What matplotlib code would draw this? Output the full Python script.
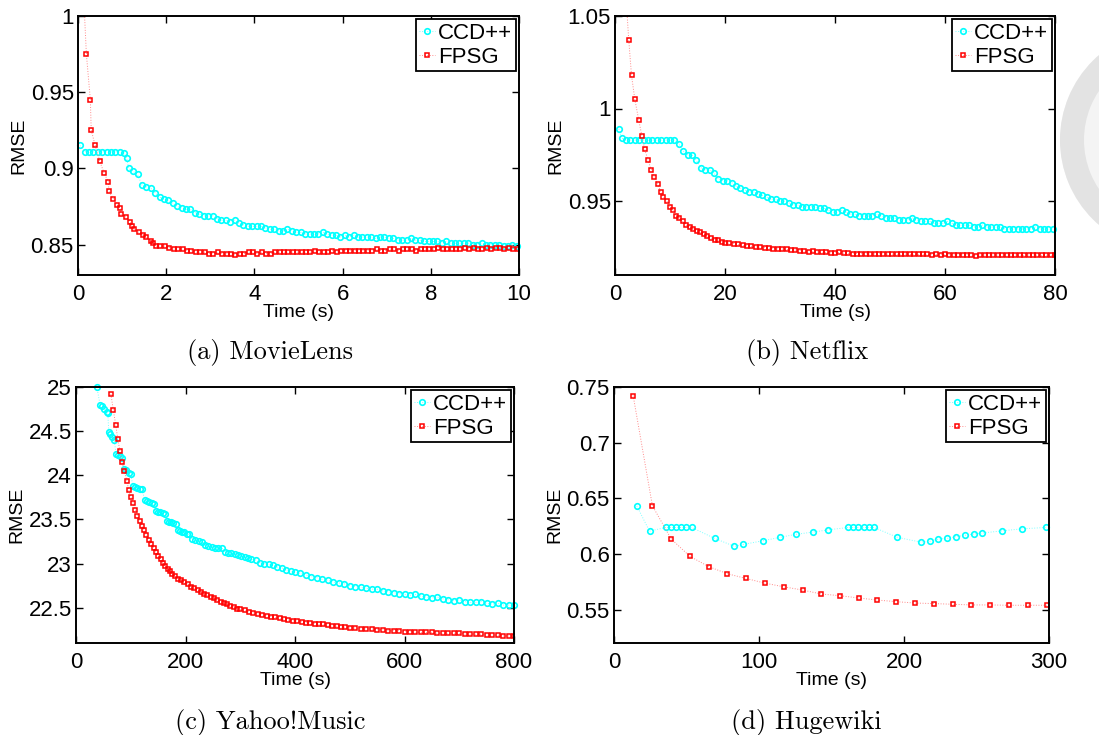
import matplotlib
matplotlib.use('Agg')
import matplotlib.pyplot as plt
from matplotlib.patches import Circle, Annulus

plt.rcParams['font.family'] = ['Liberation Sans', 'DejaVu Sans']

# ---------------- (a) MovieLens ----------------
ml_ccd_t = [0.05, 0.15, 0.25, 0.35, 0.45, 0.55, 0.65, 0.75, 0.85, 0.95, 1.05, 1.10,
            1.15, 1.25, 1.35, 1.45, 1.55, 1.65, 1.75, 1.85, 1.95,
            2.05, 2.15, 2.25, 2.35, 2.45, 2.55, 2.65, 2.75, 2.85, 2.95,
            3.05, 3.15, 3.25, 3.35, 3.45, 3.55, 3.65, 3.75, 3.85, 3.95,
            4.05, 4.15, 4.25, 4.35, 4.45, 4.55, 4.65, 4.75, 4.85, 4.95,
            5.05, 5.15, 5.25, 5.35, 5.45, 5.55, 5.65, 5.75, 5.85, 5.95,
            6.05, 6.15, 6.25, 6.35, 6.45, 6.55, 6.65, 6.75, 6.85, 6.95,
            7.05, 7.15, 7.25, 7.35, 7.45, 7.55, 7.65, 7.75, 7.85, 7.95,
            8.05, 8.15, 8.25, 8.35, 8.45, 8.55, 8.65, 8.75, 8.85, 8.95,
            9.05, 9.15, 9.25, 9.35, 9.45, 9.55, 9.65, 9.75, 9.85, 9.95]
ml_ccd_rmse = [0.915, 0.911, 0.911, 0.911, 0.911, 0.911, 0.911, 0.911, 0.911, 0.911, 0.910, 0.907,
               0.900, 0.898, 0.896, 0.889, 0.888, 0.887, 0.884, 0.881, 0.880,
               0.879, 0.877, 0.875, 0.874, 0.873, 0.873, 0.871, 0.870, 0.869, 0.869,
               0.869, 0.867, 0.866, 0.866, 0.865, 0.866, 0.864, 0.863, 0.862, 0.862,
               0.862, 0.862, 0.861, 0.860, 0.860, 0.859, 0.859, 0.860, 0.859, 0.858,
               0.858, 0.857, 0.857, 0.857, 0.857, 0.858, 0.857, 0.856, 0.856, 0.855,
               0.856, 0.855, 0.856, 0.855, 0.855, 0.855, 0.855, 0.854, 0.855, 0.855,
               0.854, 0.854, 0.853, 0.853, 0.853, 0.854, 0.853, 0.853, 0.852, 0.852,
               0.852, 0.852, 0.851, 0.852, 0.851, 0.851, 0.851, 0.851, 0.851, 0.850,
               0.850, 0.851, 0.850, 0.850, 0.850, 0.850, 0.849, 0.849, 0.850, 0.849]
ml_fpsg_t = [0.10, 0.19, 0.28, 0.30, 0.39, 0.49, 0.59, 0.69, 0.70, 0.80,
             0.89, 0.95, 0.97, 1.09, 1.19, 1.22, 1.27, 1.38, 1.48, 1.55,
             1.66, 1.70, 1.77, 1.87, 1.97,
             2.07, 2.17, 2.27, 2.37, 2.47, 2.57, 2.67, 2.77, 2.87, 2.97,
             3.07, 3.17, 3.27, 3.37, 3.47, 3.57, 3.67, 3.77, 3.87, 3.97,
             4.07, 4.17, 4.27, 4.37, 4.47, 4.57, 4.67, 4.77, 4.87, 4.97,
             5.07, 5.17, 5.27, 5.37, 5.47, 5.57, 5.67, 5.77, 5.87, 5.97,
             6.07, 6.17, 6.27, 6.37, 6.47, 6.57, 6.67, 6.77, 6.87, 6.97,
             7.07, 7.17, 7.27, 7.37, 7.47, 7.57, 7.67, 7.77, 7.87, 7.97,
             8.07, 8.17, 8.27, 8.37, 8.47, 8.57, 8.67, 8.77, 8.87, 8.97,
             9.07, 9.17, 9.27, 9.37, 9.47, 9.57, 9.67, 9.77, 9.87, 9.97]
ml_fpsg_rmse = [1.030, 0.975, 0.945, 0.925, 0.915, 0.905, 0.897, 0.891, 0.885, 0.880,
                0.876, 0.874, 0.870, 0.868, 0.865, 0.862, 0.860, 0.858, 0.856, 0.855,
                0.852, 0.851, 0.849, 0.849, 0.849,
                0.848, 0.847, 0.847, 0.847, 0.846, 0.846, 0.845, 0.845, 0.845, 0.844,
                0.844, 0.845, 0.844, 0.844, 0.844, 0.843, 0.844, 0.844, 0.845, 0.845,
                0.844, 0.845, 0.844, 0.844, 0.845, 0.845, 0.845, 0.845, 0.845, 0.845,
                0.845, 0.845, 0.845, 0.846, 0.845, 0.845, 0.845, 0.846, 0.845, 0.846,
                0.846, 0.846, 0.846, 0.846, 0.846, 0.846, 0.846, 0.847, 0.846, 0.846,
                0.847, 0.847, 0.846, 0.847, 0.847, 0.847, 0.846, 0.847, 0.847, 0.847,
                0.847, 0.848, 0.847, 0.847, 0.847, 0.847, 0.847, 0.848, 0.847, 0.848,
                0.847, 0.847, 0.848, 0.847, 0.848, 0.848, 0.847, 0.848, 0.847, 0.847]

# ---------------- (b) Netflix ----------------
nf_ccd_t = [0.7, 1.2, 2.0, 2.8, 3.6, 4.4, 5.2, 6.0, 6.8, 7.6, 8.4,
            9.2, 10.0, 10.8, 11.6, 12.4, 13.2, 14.0, 14.8, 15.6, 16.4,
            17.2, 18.0, 18.8, 19.6, 20.4, 21.2, 22.0, 22.8, 23.6, 24.4,
            25.2, 26.0, 26.8, 27.6, 28.4, 29.2, 30.0, 30.8, 31.6, 32.4,
            33.2, 34.0, 34.8, 35.6, 36.4, 37.2, 38.0, 38.8, 39.6, 40.4,
            41.2, 42.0, 42.8, 43.6, 44.4, 45.2, 46.0, 46.8, 47.6, 48.4,
            49.2, 50.0, 50.8, 51.6, 52.4, 53.2, 54.0, 54.8, 55.6, 56.4,
            57.2, 58.0, 58.8, 59.6, 60.4, 61.2, 62.0, 62.8, 63.6, 64.4,
            65.2, 66.0, 66.8, 67.6, 68.4, 69.2, 70.0, 70.8, 71.6, 72.4,
            73.2, 74.0, 74.8, 75.6, 76.4, 77.2, 78.0, 78.8, 79.6]
nf_ccd_rmse = [0.989, 0.984, 0.983, 0.983, 0.983, 0.983, 0.983, 0.983, 0.983, 0.983, 0.983,
               0.983, 0.983, 0.983, 0.981, 0.977, 0.975, 0.975, 0.972, 0.968, 0.967,
               0.967, 0.965, 0.962, 0.961, 0.961, 0.960, 0.958, 0.957, 0.956, 0.955,
               0.955, 0.954, 0.953, 0.952, 0.951, 0.951, 0.950, 0.950, 0.949, 0.948,
               0.948, 0.947, 0.947, 0.947, 0.947, 0.946, 0.946, 0.945, 0.944, 0.944,
               0.945, 0.944, 0.943, 0.943, 0.942, 0.942, 0.942, 0.942, 0.943, 0.942,
               0.941, 0.941, 0.941, 0.940, 0.940, 0.940, 0.941, 0.940, 0.939, 0.939,
               0.939, 0.938, 0.938, 0.938, 0.939, 0.938, 0.937, 0.937, 0.937, 0.937,
               0.936, 0.936, 0.937, 0.936, 0.936, 0.936, 0.936, 0.935, 0.935, 0.935,
               0.935, 0.935, 0.935, 0.935, 0.936, 0.935, 0.935, 0.935, 0.935]
nf_fpsg_t = [2.0, 2.5, 3.0, 3.6, 4.3, 4.9, 5.4, 6.0, 6.6, 7.1,
             7.8, 8.3, 8.8, 9.4, 10.0, 10.6, 11.1, 11.7, 12.3, 12.9,
             13.6, 14.2, 14.9, 15.5, 16.2, 16.8, 17.5, 18.1, 18.8, 19.4, 20.0,
             20.8, 21.6, 22.4, 23.2, 24.0, 24.8, 25.6, 26.4, 27.2, 28.0,
             28.8, 29.6, 30.4, 31.2, 32.0, 32.8, 33.6, 34.4, 35.2, 36.0,
             36.8, 37.6, 38.4, 39.2, 40.0, 40.8, 41.6, 42.4, 43.2, 44.0,
             44.8, 45.6, 46.4, 47.2, 48.0, 48.8, 49.6, 50.4, 51.2, 52.0,
             52.8, 53.6, 54.4, 55.2, 56.0, 56.8, 57.6, 58.4, 59.2, 60.0,
             60.8, 61.6, 62.4, 63.2, 64.0, 64.8, 65.6, 66.4, 67.2, 68.0,
             68.8, 69.6, 70.4, 71.2, 72.0, 72.8, 73.6, 74.4, 75.2, 76.0,
             76.8, 77.6, 78.4, 79.2, 80.0]
nf_fpsg_rmse = [1.060, 1.037, 1.018, 1.005, 0.994, 0.985, 0.978, 0.972, 0.967, 0.963,
                0.959, 0.955, 0.952, 0.950, 0.947, 0.945, 0.942, 0.941, 0.939, 0.937,
                0.936, 0.935, 0.934, 0.933, 0.932, 0.931, 0.930, 0.929, 0.929, 0.928, 0.9275,
                0.9272, 0.9270, 0.9265, 0.9260, 0.9258, 0.9255, 0.9252, 0.9250, 0.9248, 0.9245,
                0.9243, 0.9241, 0.9240, 0.9238, 0.9236, 0.9235, 0.9232, 0.9228, 0.9222, 0.9228,
                0.9225, 0.9222, 0.9222, 0.9220, 0.9221, 0.9222, 0.9218, 0.9217, 0.9216, 0.9216,
                0.9215, 0.9215, 0.9213, 0.9214, 0.9215, 0.9214, 0.9213, 0.9213, 0.9212, 0.9212,
                0.9213, 0.9211, 0.9212, 0.9211, 0.9212, 0.9211, 0.9210, 0.9211, 0.9210, 0.9211,
                0.9210, 0.9209, 0.9210, 0.9209, 0.9210, 0.9208, 0.9205, 0.9209, 0.9208, 0.9208,
                0.9208, 0.9208, 0.9208, 0.9209, 0.9208, 0.9208, 0.9207, 0.9206, 0.9208, 0.9209,
                0.9207, 0.9206, 0.9207, 0.9206, 0.9206]

# ---------------- (c) Yahoo!Music ----------------
ym_ccd_t = [38, 44, 48, 52, 56, 58, 60, 63, 66, 70,
            73, 76, 80, 84, 88, 92, 96, 100, 104, 108,
            112, 116, 120, 126, 130, 134, 138, 142, 146, 150,
            154, 158, 162, 166, 170, 174, 178, 182, 186, 190,
            194, 198, 202, 206, 212, 218, 224, 230, 236, 242,
            248, 254, 260, 266, 272, 278, 284, 290, 296, 302,
            308, 314, 320, 328, 336, 344, 352, 360, 368, 376,
            384, 392, 400, 410, 420, 430, 440, 450, 460, 470,
            480, 490, 500, 510, 520, 530, 540, 550, 560, 570,
            580, 590, 600, 610, 620, 630, 640, 650, 660, 670,
            680, 690, 700, 710, 720, 730, 740, 750, 760, 770,
            780, 790, 800]
ym_ccd_rmse = [25.00, 24.80, 24.78, 24.75, 24.72, 24.70, 24.49, 24.47, 24.43, 24.40,
               24.24, 24.23, 24.22, 24.20, 24.07, 24.06, 24.03, 24.01, 23.88, 23.87,
               23.86, 23.85, 23.84, 23.72, 23.71, 23.70, 23.69, 23.68, 23.59, 23.58,
               23.58, 23.57, 23.56, 23.48, 23.47, 23.47, 23.46, 23.45, 23.38, 23.37,
               23.36, 23.36, 23.34, 23.33, 23.28, 23.27, 23.26, 23.24, 23.21, 23.20,
               23.19, 23.18, 23.18, 23.18, 23.13, 23.12, 23.12, 23.11, 23.10, 23.09,
               23.07, 23.06, 23.05, 23.04, 23.01, 23.00, 22.99, 22.98, 22.96, 22.95,
               22.93, 22.91, 22.90, 22.89, 22.87, 22.85, 22.84, 22.82, 22.81, 22.79,
               22.78, 22.77, 22.75, 22.74, 22.73, 22.72, 22.71, 22.71, 22.69, 22.68,
               22.67, 22.66, 22.65, 22.64, 22.65, 22.63, 22.62, 22.61, 22.62, 22.60,
               22.59, 22.58, 22.59, 22.57, 22.56, 22.56, 22.57, 22.55, 22.54, 22.55,
               22.53, 22.53, 22.53]
ym_fpsg_t = [63.7, 68.1, 72.6, 76.3, 80.1, 83.9, 88.3, 92.7, 96.5, 100.3,
             104.1, 108.5, 112.3, 116.7, 120.5, 124.9, 128.7, 133.0, 137.5, 142.0,
             145.7, 150.2, 154.6, 158.4, 162.8, 167.2, 171.6, 176, 180, 186,
             192, 198, 204, 210, 216, 222, 228, 234, 240, 246,
             252, 258, 264, 270, 276, 282, 288, 294, 300, 308,
             316, 324, 332, 340, 348, 356, 364, 372, 380, 388,
             396, 404, 412, 420, 428, 436, 444, 452, 460, 468,
             476, 484, 492, 500, 510, 520, 530, 540, 550, 560,
             570, 580, 590, 600, 610, 620, 630, 640, 650, 660,
             670, 680, 690, 700, 710, 720, 730, 740, 750, 760,
             770, 780, 790, 800]
ym_fpsg_rmse = [24.92, 24.74, 24.57, 24.41, 24.28, 24.15, 24.05, 23.94, 23.83, 23.75,
                23.69, 23.61, 23.54, 23.48, 23.42, 23.38, 23.32, 23.27, 23.22, 23.18,
                23.13, 23.09, 23.05, 23.01, 22.97, 22.94, 22.91, 22.88, 22.86, 22.83,
                22.81, 22.79, 22.77, 22.74, 22.72, 22.70, 22.68, 22.66, 22.64, 22.62,
                22.61, 22.59, 22.57, 22.55, 22.54, 22.52, 22.51, 22.49, 22.48, 22.47,
                22.45, 22.44, 22.43, 22.42, 22.41, 22.40, 22.39, 22.38, 22.37, 22.36,
                22.35, 22.35, 22.34, 22.33, 22.33, 22.32, 22.31, 22.31, 22.30, 22.29,
                22.29, 22.28, 22.28, 22.27, 22.27, 22.26, 22.26, 22.26, 22.25, 22.25,
                22.24, 22.24, 22.24, 22.23, 22.23, 22.22, 22.22, 22.22, 22.22, 22.21,
                22.21, 22.21, 22.21, 22.21, 22.20, 22.20, 22.20, 22.20, 22.19, 22.19,
                22.19, 22.18, 22.18, 22.18]

# ---------------- (d) Hugewiki ----------------
hw_ccd_t = [15.7, 24.5, 35.6, 39.2, 42.7, 46.4, 49.8, 53.5, 69.4, 83.1,
            89.3, 103.0, 114.3, 125.3, 136.9, 147.9, 161.6, 165.1, 168.5, 172.2,
            175.6, 179.3, 195.5, 211.4, 217.6, 223.7, 229.8, 235.7, 241.8, 248.0,
            254.1, 267.8, 281.6, 297.8]
hw_ccd_rmse = [0.6432, 0.6205, 0.6238, 0.6238, 0.6238, 0.6238, 0.6238, 0.6238, 0.6140, 0.6068,
               0.6086, 0.6119, 0.6149, 0.6176, 0.6196, 0.6217, 0.6238, 0.6238, 0.6238, 0.6238,
               0.6238, 0.6238, 0.6149, 0.6107, 0.6113, 0.6134, 0.6140, 0.6155, 0.6167, 0.6179,
               0.6188, 0.6208, 0.6226, 0.6238]
hw_fpsg_t = [13.2, 26.5, 39.5, 52.2, 65.2, 78.2, 91.0, 104.0, 117.0, 130.0,
             143.0, 156.0, 169.0, 181.7, 194.7, 207.7, 220.7, 233.7, 246.5, 259.5,
             272.5, 285.5, 298.5]
hw_fpsg_rmse = [0.7423, 0.6432, 0.6134, 0.5980, 0.5887, 0.5822, 0.5780, 0.5738, 0.5705, 0.5676,
                0.5640, 0.5625, 0.5604, 0.5586, 0.5571, 0.5559, 0.5554, 0.5548, 0.5542, 0.5542,
                0.5539, 0.5539, 0.5539]

W, H = 1099, 735
fig = plt.figure(figsize=(W / 100, H / 100), dpi=100)

# faint seal watermark peeking in at the right edge
fig.patches.append(Circle((1172, H - 140), 112, transform=None,
                          facecolor='#f4f4f4', edgecolor='none', zorder=-2))
fig.patches.append(Annulus((1172, H - 140), 112, 24, transform=None,
                           facecolor='#e3e3e3', edgecolor='none', zorder=-1))


def px_rect(l, t, r, b):
    return [l / W, 1 - b / H, (r - l) / W, (b - t) / H]


def panel(rect, ccd_t, ccd_y, fpsg_t, fpsg_y, xlim, xticks, ylim, yticks, ylabels):
    ax = fig.add_axes(px_rect(*rect))
    ax.plot(ccd_t, ccd_y, ls=':', lw=0.7, color='#7fffff', marker='o', ms=4.0,
            mfc='none', mec='#00ffff', mew=1.2, label='CCD++', clip_on=False)
    ax.plot(fpsg_t, fpsg_y, ls=':', lw=0.7, color='#ff8a8a', marker='s', ms=3.2,
            mfc='none', mec='#ff0000', mew=1.1, label='FPSG')
    ax.set_xlim(*xlim)
    ax.set_ylim(*ylim)
    ax.set_xticks(xticks)
    ax.set_xticklabels([str(v) for v in xticks])
    ax.set_yticks(yticks)
    ax.set_yticklabels(ylabels)
    ax.tick_params(direction='in', top=True, right=True, length=5, width=1,
                   labelsize=16)
    ax.tick_params(axis='x', pad=6.5)
    ax.tick_params(axis='y', pad=3)
    for s in ax.spines.values():
        s.set_linewidth(1.4)
    ax.set_xlabel('Time (s)', fontsize=14, labelpad=-1)
    ax.set_ylabel('RMSE', fontsize=14, labelpad=2)
    leg = ax.legend(loc='upper right', fontsize=16, fancybox=False, framealpha=1,
                    edgecolor='black', borderpad=0.15, labelspacing=0.15,
                    handlelength=0.7, handletextpad=0.15, borderaxespad=0.15)
    leg.get_frame().set_linewidth(1.3)
    return ax


panel((78, 16, 519, 275), ml_ccd_t, ml_ccd_rmse, ml_fpsg_t, ml_fpsg_rmse,
      (0, 10), [0, 2, 4, 6, 8, 10], (0.83, 1.0),
      [0.85, 0.9, 0.95, 1.0], ['0.85', '0.9', '0.95', '1'])
panel((615, 16, 1055, 275), nf_ccd_t, nf_ccd_rmse, nf_fpsg_t, nf_fpsg_rmse,
      (0, 80), [0, 20, 40, 60, 80], (0.91, 1.05),
      [0.95, 1.0, 1.05], ['0.95', '1', '1.05'])
panel((76, 387, 514, 643), ym_ccd_t, ym_ccd_rmse, ym_fpsg_t, ym_fpsg_rmse,
      (0, 800), [0, 200, 400, 600, 800], (22.1, 25),
      [22.5, 23, 23.5, 24, 24.5, 25], ['22.5', '23', '23.5', '24', '24.5', '25'])
panel((614, 387, 1049, 643), hw_ccd_t, hw_ccd_rmse, hw_fpsg_t, hw_fpsg_rmse,
      (0, 300), [0, 100, 200, 300], (0.52, 0.75),
      [0.55, 0.6, 0.65, 0.7, 0.75], ['0.55', '0.6', '0.65', '0.7', '0.75'])

captions = ['(a) MovieLens', '(b) Netflix', '(c) Yahoo!Music', '(d) Hugewiki']
cap_pos = [(270, 352), (807, 352), (270, 722), (806, 722)]
for txt, (cx, cy) in zip(captions, cap_pos):
    fig.text(cx / W, 1 - cy / H, txt, ha='center', va='center',
             family='cmr10', fontsize=19)

fig.savefig('out.png', dpi=100)
